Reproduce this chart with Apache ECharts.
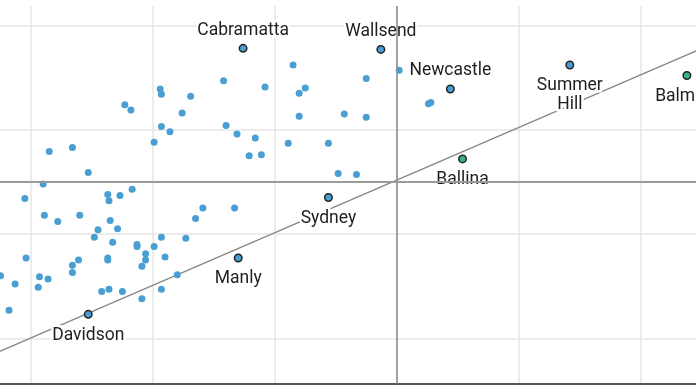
<!DOCTYPE html>
<html><head><meta charset="utf-8">
<script src="https://cdn.jsdelivr.net/npm/echarts@6/dist/echarts.min.js"></script>
<style>html,body{margin:0;padding:0;background:#fff}#c{width:696px;height:385px}</style>
</head><body><div id="c"></div>
<script>
// Labelled places
const placeNames = ['Cabramatta','Wallsend','Newcastle','Summer\nHill','Balmain','Ballina','Sydney','Manly','Davidson'];
const placeX = [-1.26, -0.13, 0.44, 1.42, 2.38, 0.54, -0.56, -1.30, -2.53];
const placeY = [2.78, 2.77, 2.39, 2.62, 2.52, 1.72, 1.35, 0.77, 0.23];
const placeGroup = ['a','a','a','a','b','b','a','a','a'];
// Unlabelled places
const otherX = [-0.85,-1.42,-1.08,-0.75,-0.80,-0.25,-1.94,-1.93,-1.69,-2.23,-2.18,-1.76,-0.43,-0.25,-0.80,0.26,0.28,0.02,
  -1.93,-1.40,-1.86,-1.31,-1.16,-1.99,-0.89,-0.56,-1.21,-1.11,-2.85,-2.66,-2.53,-0.48,-0.33,-2.90,-3.05,-2.37,-2.36,-2.27,
  -2.17,-1.59,-1.33,-1.65,-2.89,-2.78,-2.60,-2.35,-2.45,-2.29,-2.48,-2.33,-2.13,-2.13,-1.99,-1.93,-1.73,-3.04,-2.66,-2.61,
  -2.37,-2.37,-2.06,-2.06,-2.09,-1.90,-3.25,-2.93,-2.86,-2.66,-3.13,-2.94,-2.42,-2.36,-2.25,-1.93,-1.80,-2.09,-3.18];
const otherY = [2.62,2.47,2.41,2.40,2.35,2.49,2.39,2.34,2.32,2.24,2.19,2.16,2.15,2.12,2.13,2.25,2.26,2.57,
  2.03,2.04,1.98,1.96,1.92,1.88,1.87,1.87,1.75,1.76,1.79,1.83,1.59,1.58,1.57,1.48,1.34,1.38,1.32,1.37,
  1.43,1.25,1.25,1.15,1.18,1.12,1.18,1.13,1.04,1.05,0.97,0.92,0.90,0.88,0.88,0.97,0.96,0.77,0.70,0.75,
  0.77,0.75,0.81,0.75,0.69,0.78,0.60,0.59,0.57,0.63,0.52,0.49,0.45,0.47,0.45,0.47,0.61,0.38,0.27];
// Reference lines
const refX = 0;
const refY = 1.5;
const trendX = [-4, 3];
const trendY = [-0.5, 3.03];
// Axis ranges
const xRange = [-3.254, 2.455];
const yRange = [-0.433, 3.186];

const groupColor = {a:'#4a9fd2', b:'#3fb08c'};
const labelSide = {'Cabramatta':'top','Wallsend':'top','Newcastle':'top'};

const chart = echarts.init(document.getElementById('c'), null, {renderer:'canvas'});
const split = {show:true, showMinLine:false, showMaxLine:false, lineStyle:{color:'#e6e6e6', width:1.5}};
chart.setOption({
  animation:false,
  backgroundColor:'#fff',
  grid:{left:0, right:0, top:6, bottom:1.5},
  xAxis:{type:'value', min:xRange[0], max:xRange[1], minInterval:1, maxInterval:1,
    axisLabel:{show:false}, axisTick:{show:false},
    axisLine:{show:true, onZero:false, lineStyle:{color:'#555', width:2}},
    splitLine:split},
  yAxis:{type:'value', min:yRange[0], max:yRange[1], minInterval:1, maxInterval:1,
    axisLabel:{show:false}, axisTick:{show:false}, axisLine:{show:false},
    splitLine:split},
  series:[
    {type:'line', z:1, data:trendX.map((x,i)=>[x,trendY[i]]), symbol:'none', silent:true,
      lineStyle:{color:'#888', width:1.3},
      markLine:{silent:true, symbol:['none','none'], label:{show:false},
        lineStyle:{color:'#9b9b9b', width:2, type:'solid'},
        data:[{xAxis:refX, lineStyle:{width:1.6, color:'#8f8f8f'}},{yAxis:refY}]}},
    {type:'scatter', z:2, data:otherX.map((x,i)=>[x,otherY[i]]), symbolSize:7,
      itemStyle:{color:groupColor.a, opacity:1}},
    {type:'scatter', z:3, symbolSize:7.5,
      data:placeNames.map((n,i)=>({name:n, value:[placeX[i],placeY[i]],
        itemStyle:{color:groupColor[placeGroup[i]]},
        label:{position:labelSide[n]||'bottom', distance:labelSide[n]?4:7}})),
      itemStyle:{borderColor:'#222', borderWidth:1.5, opacity:1},
      label:{show:true, formatter:'{b}', fontFamily:'Roboto', fontSize:17.5, lineHeight:19,
        color:'#1f1f1f', textBorderColor:'#fff', textBorderWidth:5}}
  ]
});
</script></body></html>
